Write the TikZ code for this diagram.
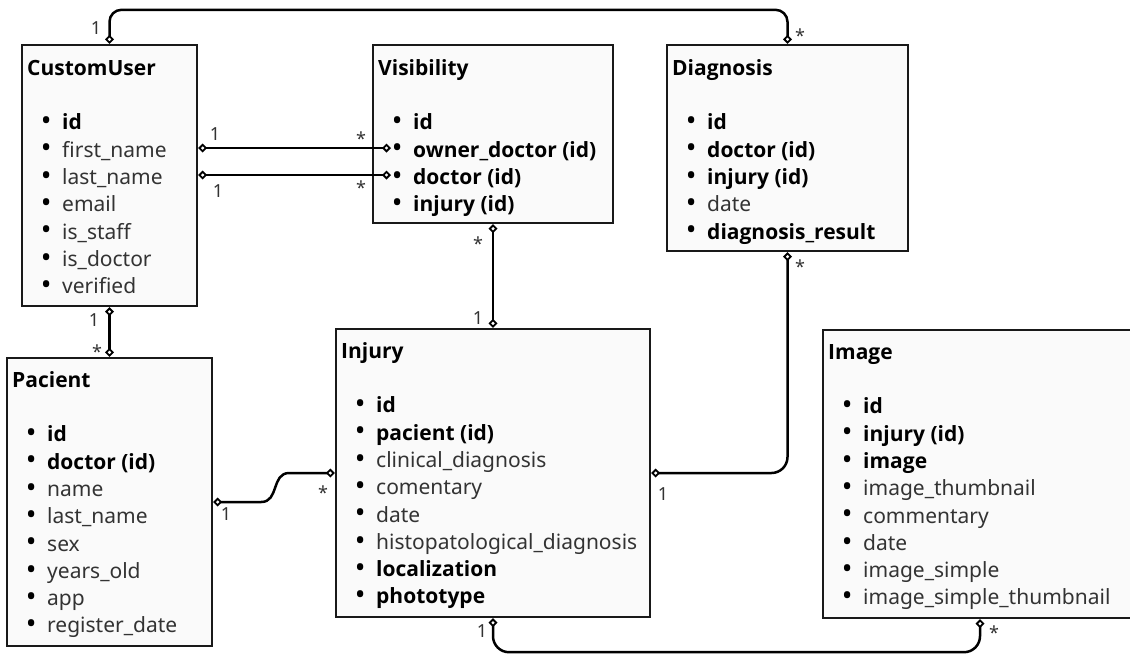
\documentclass[tikz,border=0pt]{standalone}
\usepackage{fontspec}
\setmainfont{Noto Sans}[BoldFont={Open Sans Bold}]
\usepackage{tikz}
\usetikzlibrary{calc, fit, arrows.meta}

\newcommand{\pk}[1]{\textcolor{black}{\bfseries #1}}
\newcommand{\dotmark}{\makebox[16pt]{\textcolor{black}{\raisebox{-0.4pt}{\scalebox{1.35}{\textbullet}}}}}

\begin{document}
\begin{tikzpicture}[x=0.5pt, y=-0.5pt,
    dia/.tip={Diamond[open, length=4.5pt, width=4.5pt, line width=0.9pt]},
    entity/.style={draw=black!90, line width=1.2pt, fill=black!2, inner sep=0pt},
    title/.style={anchor=base west, inner sep=0pt, font=\fontsize{10.5}{12}\selectfont\bfseries},
    attr/.style={anchor=base west, inner sep=0pt, font=\fontsize{10.5}{12}\selectfont, text=black!80},
    link/.style={line width=1.25pt, dia-dia},
    card/.style={anchor=base, inner sep=0pt, font=\fontsize{9}{10}\selectfont, text=black!80}]
    \path[use as bounding box, fill=white] (0,0) rectangle (1130,654);

    % tables
    \node[entity, fit={(22,45) (197,306)}] (user) {};
    \node[entity, fit={(373,45) (613,223)}] (vis) {};
    \node[entity, fit={(667,45) (908,251)}] (diag) {};
    \node[entity, fit={(7,358) (212,646)}] (pac) {};
    \node[entity, fit={(336,329) (650,617)}] (inj) {};
    \node[entity, fit={(823,330) (1137,618)}] (img) {};

    \node[title] (user-t) at ($(user.north west)+(6,32)$) {CustomUser};
    \node[title] (vis-t) at ($(vis.north west)+(6,32)$) {Visibility};
    \node[title] (diag-t) at ($(diag.north west)+(6,32)$) {Diagnosis};
    \node[title] (pac-t) at ($(pac.north west)+(6,31)$) {Pacient};
    \node[title] (inj-t) at ($(inj.north west)+(6,31)$) {Injury};
    \node[title] (img-t) at ($(img.north west)+(6,31)$) {Image};

    % fields
    \foreach \t [count=\i] in {\pk{id}, first\_name, last\_name, email, is\_staff, is\_doctor, verified}
        \node[attr] (user-\i) at ($(user.north west)+(9,86+27.3*\i-27.3)$) {\dotmark\t};
    \foreach \t [count=\i] in {\pk{id}, \pk{owner\_doctor (id)}, \pk{doctor (id)}, \pk{injury (id)}}
        \node[attr] (vis-\i) at ($(vis.north west)+(9,86+27.3*\i-27.3)$) {\dotmark\t};
    \foreach \t [count=\i] in {\pk{id}, \pk{doctor (id)}, \pk{injury (id)}, date, \pk{diagnosis\_result}}
        \node[attr] (diag-\i) at ($(diag.north west)+(9,86+27.3*\i-27.3)$) {\dotmark\t};
    \foreach \t [count=\i] in {\pk{id}, \pk{doctor (id)}, name, last\_name, sex, years\_old, app, register\_date}
        \node[attr] (pac-\i) at ($(pac.north west)+(9,85+27.3*\i-27.3)$) {\dotmark\t};
    \foreach \t [count=\i] in {\pk{id}, \pk{pacient (id)}, clinical\_diagnosis, comentary, date, histopatological\_diagnosis, \pk{localization}, \pk{phototype}}
        \node[attr] (inj-\i) at ($(inj.north west)+(9,85+27.3*\i-27.3)$) {\dotmark\t};
    \foreach \t [count=\i] in {\pk{id}, \pk{injury (id)}, \pk{image}, image\_thumbnail, commentary, date, image\_simple, image\_simple\_thumbnail}
        \node[attr] (img-\i) at ($(img.north west)+(9,85+27.3*\i-27.3)$) {\dotmark\t};

    % relations
    \coordinate (own) at (391,148);
    \coordinate (doc) at (391,175);
    \draw[link, rounded corners=6pt] (user.north) -- ++(0,-34) -| (diag.north);
    \draw[link] (own -| user.east) -- (own);
    \draw[link] (doc -| user.east) -- (doc);
    \draw[link] (user.south) -- (user.south |- pac.north);
    \draw[link] (vis.south) -- (inj.north);
    \draw[link, rounded corners=8pt] (diag.south) |- (inj.east);
    \draw[link] (pac.east) -- ++(48,0) .. controls +(18,0) and +(-18,0) .. ++(28,-29) -- (inj.west);
    \draw[link, rounded corners=8pt] (inj.south) -- ++(0,34) -| (img.south);

    % multiplicities
    \foreach \p/\s [count=\k] in {{(96,34)}/1, {(800,42)}/*, {(215,140)}/1, {(361,145)}/*,
        {(218,197)}/1, {(361,194)}/*, {(94,326)}/1, {(97,358)}/*, {(478,250)}/*, {(478,324)}/1,
        {(800,273)}/*, {(663,500)}/1, {(226,520)}/1, {(323,499)}/*, {(482,637)}/1, {(994,639)}/*}
        \node[card] (m\k) at \p {\s};
\end{tikzpicture}
\end{document}
